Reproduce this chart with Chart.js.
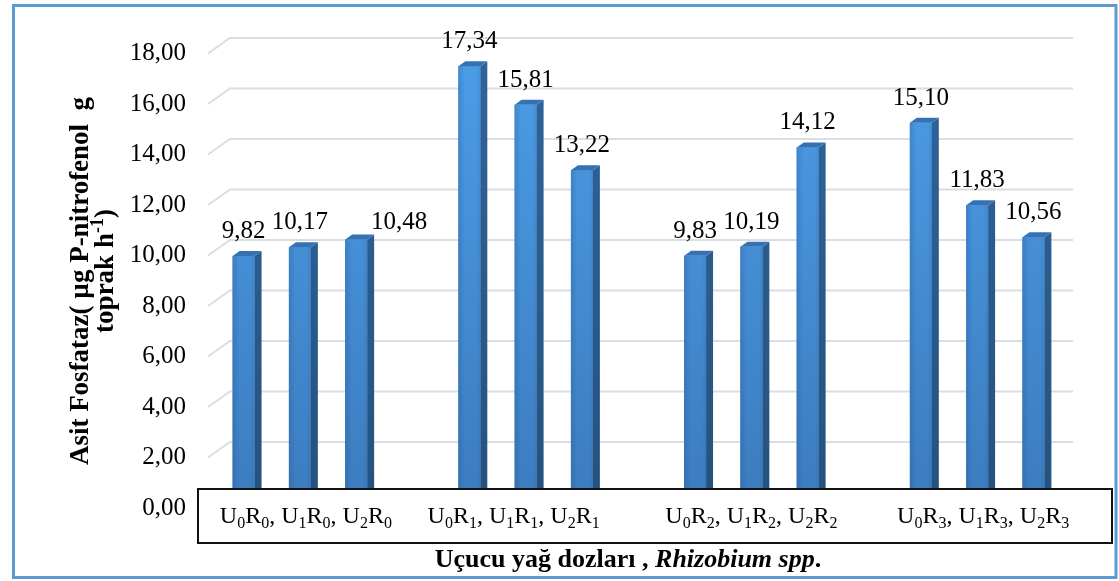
<!DOCTYPE html>
<html>
<head>
<meta charset="utf-8">
<script src="https://cdn.jsdelivr.net/npm/chart.js@4.4.1/dist/chart.umd.min.js"></script>
<style>
  html, body { margin: 0; padding: 0; background: #ffffff; }
  canvas { display: block; }
</style>
</head>
<body>
<canvas id="chart" width="1119" height="581"></canvas>
<script>
// Acid phosphatase activity (µg P-nitrofenol g toprak h-1)
// Rhizobium levels R0..R3 form the groups, essential-oil doses U0..U2 the bars.
const rhizobiumLevels = ['0', '1', '2', '3'];
const oilDoses = ['0', '1', '2'];
const u0Values = [9.82, 17.34, 9.83, 15.10];
const u1Values = [10.17, 15.81, 10.19, 11.83];
const u2Values = [10.48, 13.22, 14.12, 10.56];
const yTickValues = [0, 2, 4, 6, 8, 10, 12, 14, 16, 18];

const groupLabels = rhizobiumLevels.map(r =>
  oilDoses.map(u => `U_{${u}}R_{${r}}`).join(', ')
);
const yTitleLines = ['Asit Fosfataz( µg P-nitrofenol  g', 'toprak h^{-1})'];
const xTitleParts = [['Uçucu yağ dozları , ', 'bold'], ['Rhizobium spp', 'italic bold'], ['.', 'bold']];

const SERIF = '"Liberation Serif", "Times New Roman", serif';
const fmt = v => v.toFixed(2).replace('.', ',');

// Text with _{sub} and ^{sup} markup.
function richSegments(text) {
  const segs = [];
  const re = /([_^])\{([^}]*)\}/g;
  let last = 0, m;
  while ((m = re.exec(text)) !== null) {
    if (m.index > last) segs.push({ t: text.slice(last, m.index), k: 'n' });
    segs.push({ t: m[2], k: m[1] === '_' ? 'sub' : 'sup' });
    last = re.lastIndex;
  }
  if (last < text.length) segs.push({ t: text.slice(last), k: 'n' });
  return segs;
}
function richWidth(ctx, text, size, weight) {
  let w = 0;
  for (const s of richSegments(text)) {
    const fs = s.k === 'n' ? size : Math.round(size * 0.65);
    ctx.font = `${weight} ${fs}px ${SERIF}`;
    w += ctx.measureText(s.t).width;
  }
  return w;
}
function drawRich(ctx, text, x, y, size, weight) {
  let cx = x;
  for (const s of richSegments(text)) {
    const fs = s.k === 'n' ? size : Math.round(size * 0.65);
    ctx.font = `${weight} ${fs}px ${SERIF}`;
    const dy = s.k === 'sub' ? size * 0.22 : s.k === 'sup' ? -size * 0.38 : 0;
    ctx.fillText(s.t, cx, y + dy);
    cx += ctx.measureText(s.t).width;
  }
}

const excelBars = {
  id: 'excelBars',
  beforeDatasetsDraw(chart, args, opts) {
    const { ctx, chartArea: a } = chart;
    const ys = chart.scales.y;
    ctx.save();
    ctx.strokeStyle = opts.gridColor;
    ctx.lineWidth = 2;
    for (const t of ys.ticks) {
      const py = ys.getPixelForValue(t.value);
      ctx.beginPath();
      ctx.moveTo(a.left + opts.wallFrontX, py + opts.wallFrontY);
      ctx.lineTo(a.left + opts.wallFrontX + opts.wallDx, py + opts.wallFrontY - opts.wallDy);
      ctx.lineTo(a.right - opts.wallRightInset, py + opts.wallFrontY - opts.wallDy);
      ctx.stroke();
    }
    ctx.restore();
  },
  afterDatasetsDraw(chart, args, opts) {
    const { ctx, chartArea: a } = chart;
    const dx = opts.depthX, dy = opts.depthY;
    ctx.save();
    chart.data.datasets.forEach((ds, di) => {
      const meta = chart.getDatasetMeta(di);
      meta.data.forEach((el, i) => {
        const { x, y, base, width } = el.getProps(['x', 'y', 'base', 'width'], true);
        const l = x - width / 2, r = x + width / 2;
        // front face shading
        const gv = ctx.createLinearGradient(0, a.top, 0, a.bottom);
        gv.addColorStop(0, '#4c9de7');
        gv.addColorStop(1, '#3c7cbf');
        ctx.fillStyle = gv;
        ctx.fillRect(l, y, width, base - y);
        const gh = ctx.createLinearGradient(l, 0, r, 0);
        gh.addColorStop(0, 'rgba(20,60,110,0.2)');
        gh.addColorStop(0.3, 'rgba(20,60,110,0)');
        gh.addColorStop(0.8, 'rgba(20,60,110,0)');
        gh.addColorStop(1, 'rgba(20,60,110,0.1)');
        ctx.fillStyle = gh;
        ctx.fillRect(l, y, width, base - y);
        // side face
        const gs = ctx.createLinearGradient(0, a.top, 0, a.bottom);
        gs.addColorStop(0, '#2f649c');
        gs.addColorStop(1, '#25527f');
        ctx.fillStyle = gs;
        ctx.beginPath();
        ctx.moveTo(r, y);
        ctx.lineTo(r + dx, y - dy);
        ctx.lineTo(r + dx, base - dy);
        ctx.lineTo(r, base);
        ctx.closePath();
        ctx.fill();
        // top face
        ctx.fillStyle = '#3572b4';
        ctx.beginPath();
        ctx.moveTo(l, y);
        ctx.lineTo(l + dx, y - dy);
        ctx.lineTo(r + dx, y - dy);
        ctx.lineTo(r, y);
        ctx.closePath();
        ctx.fill();
        // value label
        const nudge = (opts.labelNudge[di] || [])[i] || [0, 0];
        ctx.fillStyle = '#000';
        ctx.font = `25px ${SERIF}`;
        ctx.textAlign = 'center';
        ctx.textBaseline = 'alphabetic';
        ctx.fillText(fmt(ds.data[i]), x + nudge[0], y - 18 + nudge[1]);
      });
    });
    ctx.restore();
  },
  afterDraw(chart, args, opts) {
    const { ctx } = chart;
    const xs = chart.scales.x;
    ctx.save();
    // category label box
    const b = opts.labelBox;
    ctx.fillStyle = '#fff';
    ctx.fillRect(b.x, b.y, b.w, b.h);
    ctx.strokeStyle = '#111';
    ctx.lineWidth = 2;
    ctx.strokeRect(b.x, b.y, b.w, b.h);
    ctx.fillStyle = '#000';
    ctx.textBaseline = 'alphabetic';
    ctx.textAlign = 'left';
    groupLabels.forEach((lbl, i) => {
      const cx = xs.getPixelForValue(i) + (opts.xLabelNudge[i] || 0);
      const w = richWidth(ctx, lbl, 24, 'normal');
      drawRich(ctx, lbl, cx - w / 2, b.y + 34, 24, 'normal');
    });
    // x-axis title
    let total = 0;
    for (const [t, st] of xTitleParts) { ctx.font = `${st} 26px ${SERIF}`; total += ctx.measureText(t).width; }
    let tx = opts.xTitleCenter - total / 2;
    for (const [t, st] of xTitleParts) {
      ctx.font = `${st} 26px ${SERIF}`;
      ctx.fillText(t, tx, opts.xTitleBaseline);
      tx += ctx.measureText(t).width;
    }
    // y-axis title, rotated
    yTitleLines.forEach((line, i) => {
      ctx.save();
      ctx.translate(opts.yTitleX[i], opts.yTitleCenter[i]);
      ctx.rotate(-Math.PI / 2);
      const w = richWidth(ctx, line, 27, 'bold');
      drawRich(ctx, line, -w / 2, 0, 27, 'bold');
      ctx.restore();
    });
    // outer frame
    ctx.strokeStyle = '#5b9bd5';
    ctx.lineWidth = 3;
    ctx.strokeRect(13.5, 5.5, 1102.5, 572);
    ctx.restore();
  }
};

new Chart(document.getElementById('chart'), {
  type: 'bar',
  data: {
    labels: groupLabels,
    datasets: [
      { label: 'U0', data: u0Values },
      { label: 'U1', data: u1Values },
      { label: 'U2', data: u2Values }
    ].map(d => ({ ...d, backgroundColor: '#4189d2', borderWidth: 0,
                  categoryPercentage: 0.748, barPercentage: 0.39 }))
  },
  options: {
    responsive: false,
    animation: false,
    devicePixelRatio: 1,
    layout: { padding: { left: 117, right: 29, top: 49.5, bottom: 77 } },
    plugins: {
      legend: { display: false },
      tooltip: { enabled: false },
      excelBars: {
        gridColor: '#d9dde5',
        wallFrontX: 21, wallFrontY: 4, wallDx: 22, wallDy: 15.5, wallRightInset: 17,
        depthX: 7, depthY: 5,
        labelNudge: [[], [], [[43, 8]]],
        labelBox: { x: 198, y: 489, w: 914, h: 54 },
        xLabelNudge: [6, -12, 0, 6],
        xTitleCenter: 628, xTitleBaseline: 567,
        yTitleX: [88, 113], yTitleCenter: [281, 271]
      }
    },
    scales: {
      x: { display: false, offset: true },
      y: {
        min: 0, max: 18,
        afterFit(scale) { scale.width = 70; },
        afterBuildTicks(scale) { scale.ticks = yTickValues.map(v => ({ value: v })); },
        grid: { display: false, drawTicks: false },
        border: { display: false },
        ticks: {
          padding: 1,
          labelOffset: 4,
          color: '#000',
          font: { family: SERIF, size: 25 },
          callback: v => fmt(v)
        }
      }
    }
  },
  plugins: [excelBars]
});
</script>
</body>
</html>
